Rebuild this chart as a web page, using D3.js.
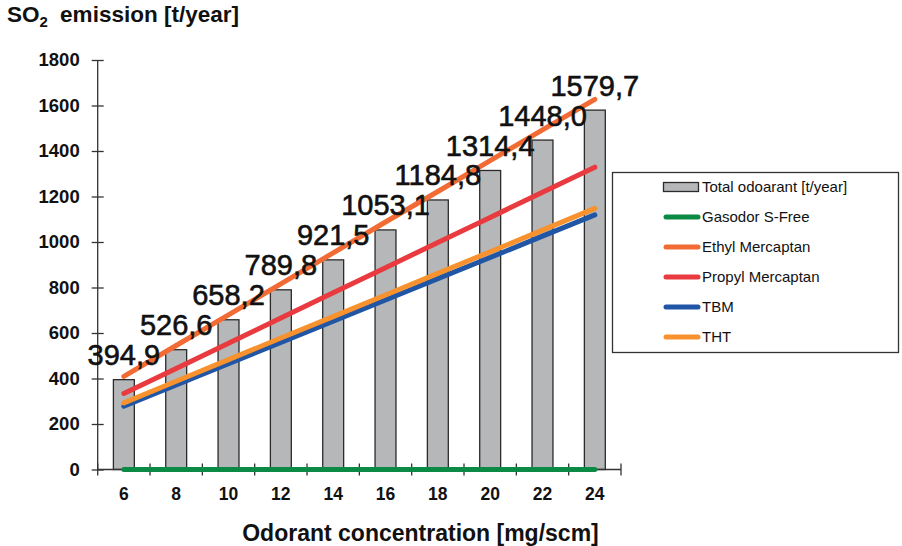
<!DOCTYPE html>
<html>
<head>
<meta charset="utf-8">
<script src="https://cdn.jsdelivr.net/npm/d3@7"></script>
<style>
  html, body { margin: 0; padding: 0; background: #fff; }
  svg { display: block; font-family: "Liberation Sans", Arial, sans-serif; }
</style>
</head>
<body>
<svg id="chart" width="902" height="546"></svg>
<script>
// Odorant concentration categories [mg/scm]
const concentrations = [6, 8, 10, 12, 14, 16, 18, 20, 22, 24];

// Total odorant consumption [t/year] (bars, labelled)
const totalOdorant = [394.9, 526.6, 658.2, 789.8, 921.5, 1053.1, 1184.8, 1314.4, 1448.0, 1579.7];

// SO2 emission per odorant type [t/year]
const gasodorSFree   = [0, 0, 0, 0, 0, 0, 0, 0, 0, 0];
const ethylMercaptan = [409, 545, 680, 816, 952, 1088, 1222, 1358, 1493, 1627];
const propylMercaptan = [334, 444, 555, 666, 777, 887, 998, 1108, 1219, 1329];
const tbm            = [278, 372, 465, 558, 652, 745, 839, 932, 1026, 1119];
const tht            = [293, 388, 483, 578, 672, 767, 862, 957, 1052, 1148];

const yTicks = [0, 200, 400, 600, 800, 1000, 1200, 1400, 1600, 1800];

const series = [
  { name: "Gasodor S-Free",   values: gasodorSFree,    color: "#0b8a45" },
  { name: "Ethyl Mercaptan",  values: ethylMercaptan,  color: "#f26b34" },
  { name: "Propyl Mercaptan", values: propylMercaptan, color: "#e83a3f" },
  { name: "TBM",              values: tbm,             color: "#2156a5" },
  { name: "THT",              values: tht,             color: "#f7922e" }
];

const svg = d3.select("#chart");
const plotLeft = 97.7, plotRight = 621, plotTop = 60, plotBottom = 469.5;

const x = d3.scaleBand().domain(concentrations).range([plotLeft, plotRight]).paddingInner(0.6).paddingOuter(0.3);
const xCat = d3.scaleBand().domain(concentrations).range([plotLeft, plotRight]).padding(0);
const y = d3.scaleLinear().domain([0, 1800]).range([plotBottom, plotTop]);
const cx = c => xCat(c) + xCat.bandwidth() / 2;

// Bars
svg.append("g").selectAll("rect").data(concentrations).join("rect")
  .attr("x", c => x(c))
  .attr("y", (c, i) => y(totalOdorant[i]))
  .attr("width", x.bandwidth())
  .attr("height", (c, i) => y(0) - y(totalOdorant[i]))
  .attr("fill", "#b5b7b8")
  .attr("stroke", "#2b2b2b")
  .attr("stroke-width", 1.3);

// Y axis
const yAxis = svg.append("g").attr("transform", `translate(${plotLeft},0)`)
  .call(d3.axisLeft(y).tickValues(yTicks).tickSize(6).tickPadding(12).tickFormat(d3.format("d")));
yAxis.select(".domain").attr("d", `M0,${plotTop}V${plotBottom}`).attr("stroke", "#333").attr("stroke-width", 1.3);
yAxis.selectAll(".tick line").attr("x1", 6).attr("x2", -6).attr("stroke", "#333").attr("stroke-width", 1.3);
yAxis.selectAll(".tick text").attr("font-size", 18.5).attr("font-weight", "bold").attr("fill", "#111")
  .attr("font-family", "Liberation Sans, Arial, sans-serif");

// X axis (labels centred, ticks on category boundaries)
const xAxis = svg.append("g").attr("transform", `translate(0,${plotBottom})`)
  .call(d3.axisBottom(xCat).tickSize(0).tickPadding(18.5));
xAxis.select(".domain").attr("d", `M${plotLeft},0H${plotRight}`).attr("stroke", "#333").attr("stroke-width", 1.3);
xAxis.selectAll(".tick text").attr("font-size", 17.5).attr("font-weight", "bold").attr("fill", "#111")
  .attr("font-family", "Liberation Sans, Arial, sans-serif");
const boundaries = concentrations.map(c => xCat(c)).concat([plotRight]);
xAxis.append("g").selectAll("line").data(boundaries).join("line")
  .attr("x1", d => d).attr("x2", d => d).attr("y1", -6).attr("y2", 6)
  .attr("stroke", "#333").attr("stroke-width", 1.3);

// Emission lines
const line = d3.line().x((v, i) => cx(concentrations[i])).y(v => y(v));
svg.append("g").selectAll("path").data(series).join("path")
  .attr("d", s => line(s.values))
  .attr("fill", "none")
  .attr("stroke", s => s.color)
  .attr("stroke-width", 5)
  .attr("stroke-linecap", "round");

// Value labels above bars
svg.append("g").selectAll("text").data(concentrations).join("text")
  .attr("x", c => cx(c))
  .attr("y", (c, i) => y(totalOdorant[i]) - 14.5)
  .attr("text-anchor", "middle")
  .attr("font-size", 29)
  .attr("fill", "#111")
  .attr("stroke", "#111")
  .attr("stroke-width", 0.6)
  .text((c, i) => d3.format(".1f")(totalOdorant[i]).replace(".", ","));

// Axis titles
const yTitle = svg.append("text").attr("x", 7).attr("y", 22)
  .attr("font-size", 22.5).attr("font-weight", "bold").attr("fill", "#111");
yTitle.append("tspan").text("SO");
yTitle.append("tspan").attr("font-size", 15).attr("dy", 5).text("2");
yTitle.append("tspan").attr("dy", -5).attr("dx", 6).text(" emission [t/year]");

svg.append("text").attr("x", 420.5).attr("y", 541)
  .attr("text-anchor", "middle")
  .attr("font-size", 23).attr("font-weight", "bold").attr("fill", "#111")
  .text("Odorant concentration [mg/scm]");

// Legend
const legend = svg.append("g");
legend.append("rect").attr("x", 612.5).attr("y", 172.5).attr("width", 286).attr("height", 180)
  .attr("fill", "#fff").attr("stroke", "#333").attr("stroke-width", 1.3);
const rowY = i => 187 + i * 30;
legend.append("rect").attr("x", 663.5).attr("y", rowY(0) - 4.5).attr("width", 35).attr("height", 9)
  .attr("fill", "#b5b7b8").attr("stroke", "#2b2b2b").attr("stroke-width", 1.3);
legend.append("text").attr("x", 702).attr("y", rowY(0)).attr("dy", "0.35em")
  .attr("font-size", 15).attr("fill", "#111").text("Total odoarant [t/year]");
series.forEach((s, i) => {
  const yy = rowY(i + 1);
  legend.append("line").attr("x1", 666).attr("x2", 698).attr("y1", yy).attr("y2", yy)
    .attr("stroke", s.color).attr("stroke-width", 5).attr("stroke-linecap", "round");
  legend.append("text").attr("x", 702).attr("y", yy).attr("dy", "0.35em")
    .attr("font-size", 15).attr("fill", "#111").text(s.name);
});
</script>
</body>
</html>
